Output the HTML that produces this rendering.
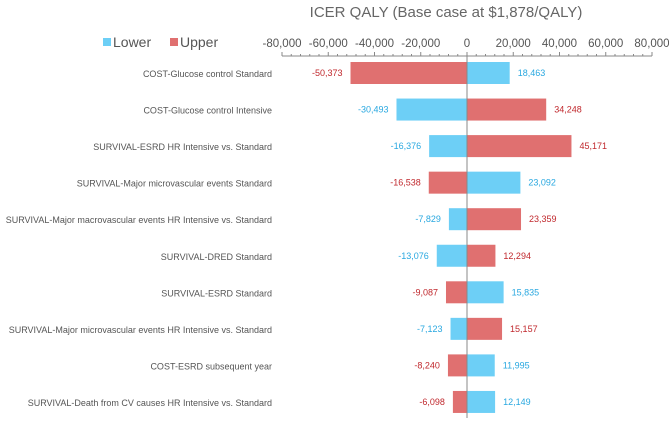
<!DOCTYPE html>
<html><head><meta charset="utf-8"><style>
body{margin:0;background:#fff;font-family:"Liberation Sans",sans-serif}
</style></head><body>
<svg id="c" width="669" height="425" xmlns="http://www.w3.org/2000/svg" font-family="Liberation Sans, sans-serif">
<text x="446" y="17" text-anchor="middle" font-size="15" fill="#666">ICER QALY (Base case at $1,878/QALY)</text>
<g>
<rect x="103" y="38" width="8" height="8" fill="#6dcff6"/>
<text x="113" y="47" font-size="14" fill="#555">Lower</text>
<rect x="170" y="38" width="8" height="8" fill="#e07070"/>
<text x="180" y="47" font-size="14" fill="#555">Upper</text>
</g>
<g id="plot"></g>
</svg>
<script>
const categories=["COST-Glucose control Standard","COST-Glucose control Intensive","SURVIVAL-ESRD HR Intensive vs. Standard","SURVIVAL-Major microvascular events Standard","SURVIVAL-Major macrovascular events HR Intensive vs. Standard","SURVIVAL-DRED Standard","SURVIVAL-ESRD Standard","SURVIVAL-Major microvascular events HR Intensive vs. Standard","COST-ESRD subsequent year","SURVIVAL-Death from CV causes HR Intensive vs. Standard"];
const lowerValues=[18463,-30493,-16376,23092,-7829,-13076,15835,-7123,11995,12149];
const upperValues=[-50373,34248,45171,-16538,23359,12294,-9087,15157,-8240,-6098];
const tickValues=[-80000,-60000,-40000,-20000,0,20000,40000,60000,80000];
const NS="http://www.w3.org/2000/svg";
const g=document.getElementById('plot');
const x0=467,k=185/80000;
const x=v=>x0+v*k;
const rowY=i=>73+i*36.55;
function el(t,a){const e=document.createElementNS(NS,t);for(const n in a)e.setAttribute(n,a[n]);g.appendChild(e);return e;}
const fmt=v=>(v<0?"-":"")+Math.abs(v).toLocaleString("en-US");
let ax=el('line',{x1:x(-80000),x2:x(80000),y1:56,y2:56,stroke:'#888','stroke-width':1});


for(let v=-80000;v<=80000;v+=4000){let t=el('line',{x1:x(v),x2:x(v),y1:v%20000===0?52:54,y2:56,stroke:'#888','stroke-width':1});

}
tickValues.forEach(v=>{let t=el('text',{x:x(v),y:47,'text-anchor':'middle','font-size':11.5,fill:'#555'});t.textContent=fmt(v);

});
categories.forEach((c,i)=>{
 const y=rowY(i);
 let l=el('text',{x:272,y:y+4,'text-anchor':'end','font-size':9,fill:'#555'});l.textContent=c;
 
 
 [[lowerValues[i],'#6dcff6','#29a8e0','lower'],[upperValues[i],'#e07070','#c0282d','upper']].forEach(([v,f,tc,s])=>{
  const a=Math.min(x(0),x(v)),w=Math.abs(x(v)-x(0));
  let r=el('rect',{x:a,y:y-11,width:w,height:22,fill:f});
  
  
  let t=el('text',{x:v<0?x(v)-8:x(v)+8,y:y+3,'text-anchor':v<0?'end':'start','font-size':9,fill:tc});t.textContent=fmt(v);
  
  
 });
});
let z=el('line',{x1:x(0),x2:x(0),y1:56,y2:418,stroke:'#888','stroke-width':1});


</script>
</body></html>
